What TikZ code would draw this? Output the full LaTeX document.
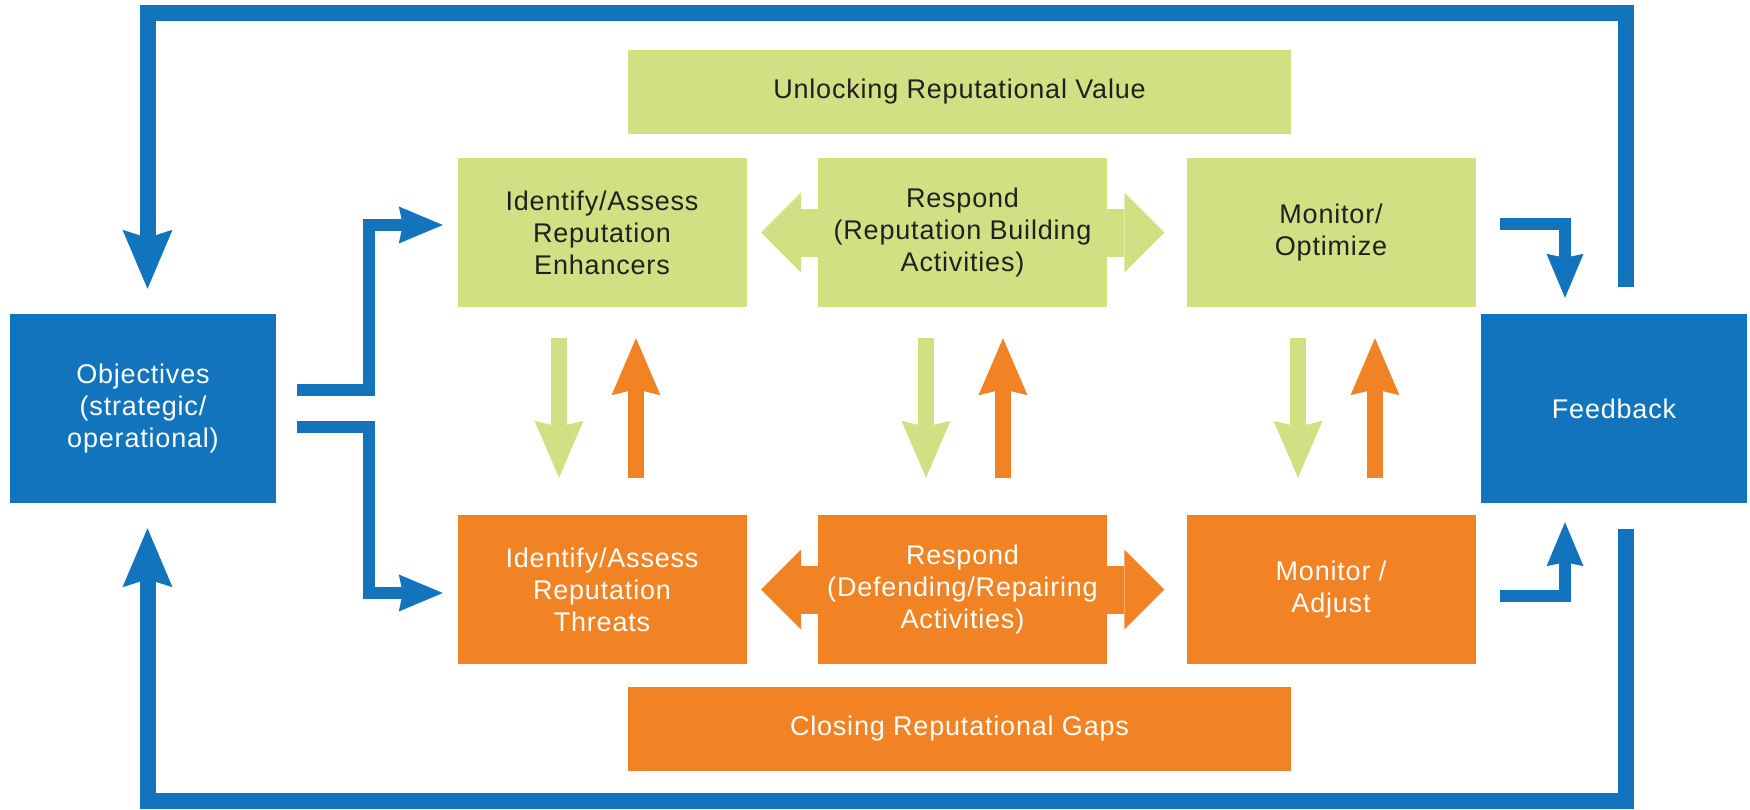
\documentclass[tikz,border=0pt]{standalone}
\usepackage{fontspec}
\setmainfont{Liberation Sans}[LetterSpace=3]
\usetikzlibrary{arrows.meta}

\definecolor{brandblue}{RGB}{18,116,188}
\definecolor{leafgreen}{RGB}{209,224,130}
\definecolor{warmorange}{RGB}{242,131,36}
\definecolor{inkgray}{RGB}{35,31,32}

\begin{document}
\begin{tikzpicture}[x=1pt,y=-1pt,
  box/.style={rectangle, inner sep=0pt, align=center,
    font=\fontsize{27}{32}\selectfont},
  greenbox/.style={box, fill=leafgreen, text=inkgray,
    minimum width=289pt, minimum height=149pt},
  orangebox/.style={box, fill=warmorange, text=white,
    minimum width=289pt, minimum height=149pt},
  bluebox/.style={box, fill=brandblue, text=white,
    minimum width=266pt, minimum height=189pt},
  banner/.style={box, minimum width=663pt, minimum height=84pt},
  loopflow/.style={draw=brandblue, line width=16pt,
    -{Stealth[length=59pt,width=50pt,inset=8pt,line width=0pt]}},
  feed/.style={draw=brandblue, line width=12.5pt,
    -{Stealth[length=44pt,width=37pt,inset=4pt,line width=0pt]}},
  vflow/.style={line width=16pt,
    -{Stealth[length=57pt,width=49pt,inset=6pt,line width=0pt]}},
  dbl/.style={line width=48pt,
    -{Triangle[length=40pt,width=80pt,line width=0pt]}},
]
\useasboundingbox (0,0) rectangle (1750,809);

% side boxes
\node[bluebox] (obj) at (143,408.5) {Objectives\\(strategic/\\operational)};
\node[bluebox] (fb)  at (1614,408.5) {Feedback};

% banners
\node[banner, fill=leafgreen, text=inkgray] (unl) at (959.5,91.5) {Unlocking Reputational Value};
\node[banner, fill=warmorange, text=white] (clo) at (959.5,729) {Closing Reputational Gaps};

% upper row
\node[greenbox] (enh) at (602,232.5) {Identify/Assess\\Reputation\\Enhancers};
\node[greenbox] (rsb) at (962.5,232.5) {Respond\\(Reputation Building\\Activities)};
\node[greenbox] (mon) at (1331,232.5) {Monitor/\\Optimize};

% lower row
\node[orangebox] (thr) at (602,589.5) {Identify/Assess\\Reputation\\Threats};
\node[orangebox] (rsd) at (962.5,589.5) {Respond\\(Defending/Repairing\\Activities)};
\node[orangebox] (adj) at (1331,589.5) {Monitor /\\Adjust};

% double arrows around the respond boxes
\draw[dbl, draw=leafgreen, shorten >=14.5pt] (rsb.west) -- (enh.east);
\draw[dbl, draw=leafgreen, shorten >=22pt] (rsb.east) -- (mon.west);
\draw[dbl, draw=warmorange, shorten >=14.5pt] (rsd.west) -- (thr.east);
\draw[dbl, draw=warmorange, shorten >=22pt] (rsd.east) -- (adj.west);

% vertical exchanges between the rows
\draw[vflow, draw=leafgreen, shorten <=31pt, shorten >=37pt]
  ([xshift=-43pt]enh.south) -- ([xshift=-43pt]thr.north);
\draw[vflow, draw=warmorange, shorten <=37pt, shorten >=31pt]
  ([xshift=34pt]thr.north) -- ([xshift=34pt]enh.south);
\draw[vflow, draw=leafgreen, shorten <=31pt, shorten >=37pt]
  ([xshift=-36.5pt]rsb.south) -- ([xshift=-36.5pt]rsd.north);
\draw[vflow, draw=warmorange, shorten <=37pt, shorten >=31pt]
  ([xshift=40.5pt]rsd.north) -- ([xshift=40.5pt]rsb.south);
\draw[vflow, draw=leafgreen, shorten <=31pt, shorten >=37pt]
  ([xshift=-33pt]mon.south) -- ([xshift=-33pt]adj.north);
\draw[vflow, draw=warmorange, shorten <=37pt, shorten >=31pt]
  ([xshift=44pt]adj.north) -- ([xshift=44pt]mon.south);

% objectives split into both rows
\coordinate (splitX) at (369,0);
\coordinate (oA) at ([yshift=18.5pt]obj.east);
\coordinate (oB) at ([yshift=-18.5pt]obj.east);
\coordinate (eA) at ([yshift=7.5pt]enh.west);
\coordinate (tB) at ([yshift=-3.5pt]thr.west);
\draw[feed, shorten <=21pt, shorten >=14.5pt] (oA) -- (splitX |- oA) -- (splitX |- eA) -- (eA);
\draw[feed, shorten <=21pt, shorten >=14.5pt] (oB) -- (splitX |- oB) -- (splitX |- tB) -- (tB);

% monitoring results into feedback
\coordinate (mA) at ([yshift=8.5pt]mon.east);
\coordinate (mB) at ([yshift=-6.5pt]adj.east);
\coordinate (fbA) at ([xshift=-49pt]fb.north);
\coordinate (fbB) at ([xshift=-49pt]fb.south);
\draw[feed, shorten <=24.5pt, shorten >=16pt] (mA) -- (mA -| fbA) -- (fbA);
\draw[feed, shorten <=24.5pt, shorten >=19pt] (mB) -- (mB -| fbB) -- (fbB);

% outer feedback loops back to the objectives
\coordinate (topY) at (0,13);
\coordinate (botY) at (0,801);
\coordinate (fbN) at ([xshift=12pt]fb.north);
\coordinate (fbS) at ([xshift=12pt]fb.south);
\coordinate (objN) at ([xshift=4.5pt]obj.north);
\coordinate (objS) at ([xshift=4.5pt]obj.south);
\draw[loopflow, shorten <=27pt, shorten >=25pt]
  (fbN) -- (fbN |- topY) -- (objN |- topY) -- (objN);
\draw[loopflow, shorten <=26pt, shorten >=25pt]
  (fbS) -- (fbS |- botY) -- (objS |- botY) -- (objS);
\end{tikzpicture}
\end{document}
